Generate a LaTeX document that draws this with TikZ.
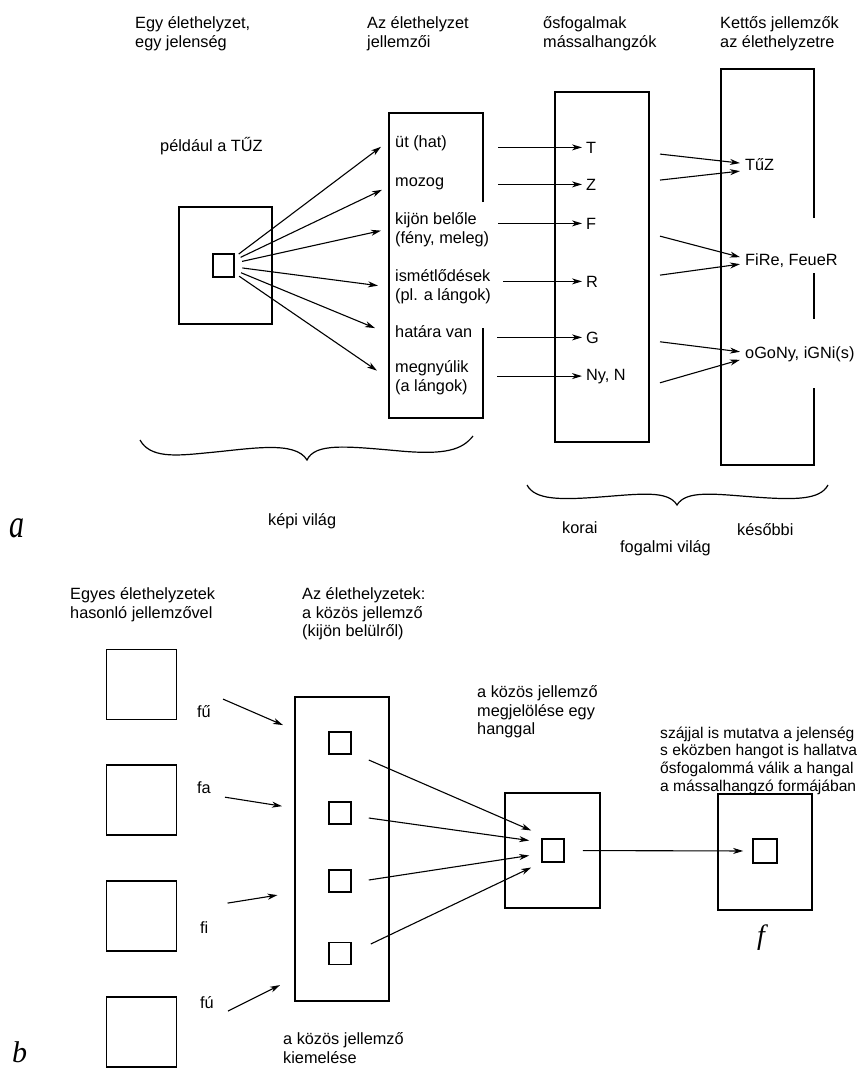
\documentclass[tikz,border=0pt]{standalone}
\usepackage{fontspec}
\setmainfont{Liberation Sans}
\newfontfamily\handfont{Liberation Serif}
\usetikzlibrary{arrows.meta,calc}

\tikzset{
  txt/.style={anchor=base west, inner sep=0pt, font=\fontsize{16.3}{18.5}\selectfont},
  block/.style={txt, anchor=north west, align=left, execute at begin node=\rule{0pt}{12.5pt}},
  frame/.style={draw, line width=1.6pt, inner sep=0pt},
  wall/.style={line width=1.6pt},
  arr/.style={-{Stealth[length=10pt,width=6pt,inset=3pt]}, line width=1.1pt},
  curly/.style={line width=1.2pt},
  hand/.style={anchor=base west, inner sep=0pt}
}

\begin{document}
\begin{tikzpicture}[x=1pt, y=-1pt]
\useasboundingbox (0,0) rectangle (859,1068);
\begin{scope}
\clip (0,0) rectangle (859,1068);

% ---------- a: egy jelenseg
\node[block] (head1) at (135,16.5) {Egy élethelyzet,\\egy jelenség};
\node[block] (head2) at (367,16.5) {Az élethelyzet\\jellemzői};
\node[block] (head3) at (543,16.5) {ősfogalmak\\mássalhangzók};
\node[block] (head4) at (720,16.5) {Kettős jellemzők\\az élethelyzetre};

\node[txt] (pelda) at (160,151) {például a TŰZ};
\node[frame, minimum width=93pt, minimum height=117pt] (tuzbox) at (225.5,265.5) {};
\node[frame, minimum width=21pt, minimum height=23pt] (tuzin) at (223.5,265.5) {};

% jellemzok
\draw[wall] (483,202) -- (483,113) -- (389,113) -- (389,418) -- (483,418) -- (483,328);
\node[txt] (ut) at (395,147) {üt (hat)};
\node[txt] (mozog) at (395,186) {mozog};
\node[block] (kijon) at (395,212.5) {kijön belőle\\(fény, meleg)};
\node[block] (ismet) at (395,269.5) {ismétlődések\\(pl. a lángok)};
\node[txt] (hatar) at (395,337) {határa van};
\node[block] (megny) at (395,360.5) {megnyúlik\\(a lángok)};

\foreach \n/\dx/\dy in {ut/-14/4, mozog/-13/6.5, kijon/-14/1, ismet/-17/-1, hatar/-20/-3, megny/-18/-7}
  \draw[arr, shorten <=19pt] (tuzin.center) -- ($(\n.west)+(\dx,\dy)$);

% massalhangzok
\node[frame, minimum width=94pt, minimum height=350pt] (ofbox) at (602,267) {};
\node[txt] (T) at (586,153) {T};
\node[txt] (Z) at (586,190) {Z};
\node[txt] (F) at (586,229) {F};
\node[txt] (R) at (586,287) {R};
\node[txt] (G) at (586,343) {G};
\node[txt] (NyN) at (586,380) {Ny, N};
\foreach \n/\len in {T/88, Z/88, F/88, R/83, G/89, NyN/89}
  \draw[arr] ($(\n.west)+(-\len,0)$) -- ($(\n.west)+(-4,0)$);

% kettos jellemzok
\draw[wall] (814,218) -- (814,69) -- (721,69) -- (721,465) -- (814,465) -- (814,388);
\draw[wall] (814,273) -- (814,319);
\node[txt] (tuz) at (745,170) {TűZ};
\node[txt] (fire) at (745,265) {FiRe, FeueR};
\node[txt] (ogony) at (745,358) {oGoNy, iGNi(s)};
\foreach \n/\ea/\sa/\eb/\sb in {tuz/-1/-10/7/16, fire/-3/-24/4/15, ogony/-2/-12/6/29}{
  \draw[arr] ($(\n.west)+(-85,\sa)$) -- ($(\n.west)+(-5,\ea)$);
  \draw[arr] ($(\n.west)+(-85,\sb)$) -- ($(\n.west)+(-5,\eb)$);
}

% kapcsos zarojelek
\draw[curly] (140,440) .. controls (150,458) and (175,456) .. (205,453)
  .. controls (250,449) and (295,440) .. (307,460)
  .. controls (315,443) and (345,446) .. (400,451)
  .. controls (445,455) and (462,450) .. (473,436);
\draw[curly] (527,485) .. controls (535,500) and (560,500) .. (600,497)
  .. controls (640,494) and (668,490) .. (677,505)
  .. controls (686,490) and (714,494) .. (754,497)
  .. controls (795,500) and (820,500) .. (828,485);
\node[txt] (kepi) at (268,525) {képi világ};
\node[txt] (korai) at (562,533) {korai};
\node[txt] (kesobbi) at (737,535) {későbbi};
\node[txt] (fogalmi) at (620,552) {fogalmi világ};
\node[hand] (parta) at (9,537) {\handfont\itshape\fontsize{40}{40}\selectfont\scalebox{0.75}[1]{a}};

% ---------- b: sok jelenseg
\node[block] (head5) at (70,587.5) {Egyes élethelyzetek\\hasonló jellemzővel};
\node[block] (head6) at (302,587.5) {Az élethelyzetek:\\a közös jellemző\\(kijön belülről)};
\foreach \i/\y in {1/684.5, 2/800, 3/916, 4/1032}
  \node[frame, minimum width=70pt, minimum height=70pt] (sit\i) at (141.5,\y) {};

\node[txt] (fu1) at (197,717) {fű};
\node[txt] (fa) at (197,793) {fa};
\node[txt] (fi) at (200,933) {fi};
\node[txt] (fu2) at (200,1008) {fú};
\draw[arr] ($(fu1.east)+(12,-12)$) -- ++(60,26);
\draw[arr] ($(fa.east)+(14,10)$) -- ++(57,9);
\draw[arr] ($(fi.east)+(19,-24)$) -- ++(50,-8);
\draw[arr] ($(fu2.east)+(14,9)$) -- ++(52,-26);

\node[frame, minimum width=94pt, minimum height=304pt] (common) at (342,849) {};
\foreach \i/\y in {1/743, 2/813, 3/881, 4/953.5}
  \node[frame, minimum width=22pt, minimum height=22pt] (q\i) at (340,\y) {};

\node[frame, minimum width=95pt, minimum height=115pt] (hubbox) at (552.5,850.5) {};
\node[frame, minimum width=22pt, minimum height=23pt] (hub) at (553,850.5) {};
\foreach \i/\sx/\sy/\ex/\ey in {1/17/17/-10/-20, 2/17/5/-12/-10, 3/17/-1/-12/5, 4/19/-9.5/-10/17}
  \draw[arr] ($(q\i.east)+(\sx,\sy)$) -- ($(hub.west)+(\ex,\ey)$);

\node[frame, minimum width=94pt, minimum height=116pt] (outbox) at (765,852) {};
\node[frame, minimum width=24pt, minimum height=24pt] (outin) at (765,851) {};
\draw[arr, shorten <=18pt, shorten >=9pt] (hub.east) -- (outin.west);

\node[block] (jelol) at (477,685.5) {a közös jellemző\\megjelölése egy\\hanggal};
\node[block, font=\fontsize{15.6}{17.8}\selectfont] (szaj) at (660,726.5) {szájjal is mutatva a jelenség\\s eközben hangot is hallatva\\ősfogalommá válik a hangal\\a mássalhangzó formájában};
\node[block] (kiem) at (283,1032.5) {a közös jellemző\\kiemelése};
\node[hand] (fhand) at (757,944) {\handfont\itshape\fontsize{28}{28}\selectfont f};
\node[hand] (partb) at (12,1062) {\handfont\itshape\fontsize{30}{30}\selectfont b};
\end{scope}
\end{tikzpicture}
\end{document}
